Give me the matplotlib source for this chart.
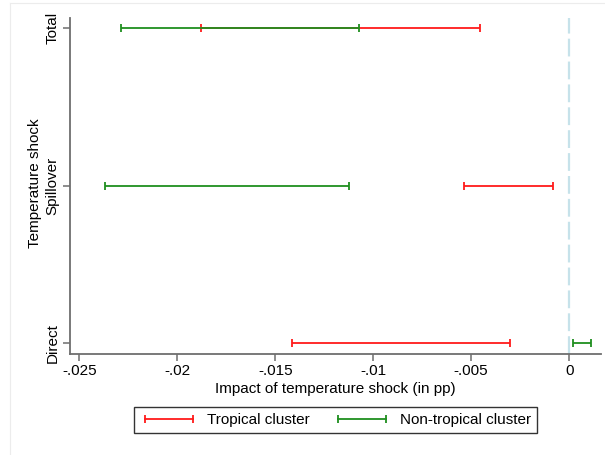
import numpy as np
import matplotlib
matplotlib.use('Agg')
import matplotlib.pyplot as plt
from matplotlib.lines import Line2D
from matplotlib.ticker import FuncFormatter

plt.rcParams['font.family'] = ['Liberation Sans', 'DejaVu Sans']

# Effects and confidence bounds
effects = ['Direct', 'Spillover', 'Total']
tropical_lo = [-0.01414, -0.00535, -0.01878]
tropical_hi = [-0.00300, -0.00081, -0.00456]
nontrop_lo = [0.00019, -0.02369, -0.02289]
nontrop_hi = [0.00110, -0.01125, -0.01072]
xticks = [-0.025, -0.02, -0.015, -0.01, -0.005, 0]

red = '#ff1a1a'
green = '#1f8f1f'

fig = plt.figure(figsize=(6.05, 4.55), dpi=100)
ax = fig.add_axes([0.1150, 0.2220, 0.8785, 0.7384])

# faint outer graph-region border
fig.add_artist(Line2D([0.0165, 0.0165], [0.0, 0.9934], color='#ececec', lw=0.8))
fig.add_artist(Line2D([0.0165, 1.0], [0.9934, 0.9934], color='#ececec', lw=0.8))

ypos = np.arange(len(effects))

ax.axvline(0, color='#c6e2ea', lw=1.6, dashes=(8, 2.3), zorder=1)


def draw_ci(lo, hi, color, z):
    lo = np.array(lo)
    hi = np.array(hi)
    ax.hlines(ypos, lo, hi, color=color, lw=1.3, zorder=z)
    ax.plot(lo, ypos, ls='none', marker='|', ms=6, mew=1.3, color=color, zorder=z)
    ax.plot(hi, ypos, ls='none', marker='|', ms=6, mew=1.3, color=color, zorder=z)


draw_ci(tropical_lo, tropical_hi, red, 3)
draw_ci(nontrop_lo, nontrop_hi, green, 4)

ax.set_xlim(-0.0255, 0.00163)
ax.set_ylim(-0.068, 2.063)
ax.set_xticks(xticks)
ax.xaxis.set_major_formatter(FuncFormatter(
    lambda v, p: '0' if abs(v) < 1e-12 else ('%g' % v).replace('0.', '.')))
ax.set_yticks(ypos)
ax.set_yticklabels(effects, rotation=90, va='center')

for s in ['top', 'right']:
    ax.spines[s].set_visible(False)
for s in ['left', 'bottom']:
    ax.spines[s].set_color('#6e6e6e')
    ax.spines[s].set_linewidth(1.3)
ax.tick_params(axis='both', length=5, width=1.1, color='#6e6e6e',
               labelsize=11, labelcolor='black', pad=2)

fig.text(35.5 / 605, 1 - 183 / 455, 'Temperature shock', rotation=90,
         ha='center', va='center', fontsize=11)
fig.text(0.5545, 0.1444, 'Impact of temperature shock (in pp)', ha='center',
         va='center', fontsize=11)

handles = [
    Line2D([0], [0], color=red, lw=1.3, marker='|', ms=5.5, mew=1.3),
    Line2D([0], [0], color=green, lw=1.3, marker='|', ms=5.5, mew=1.3),
]

leg = fig.legend(handles, ['Tropical cluster', 'Non-tropical cluster'],
                 loc='center', bbox_to_anchor=(0.5545, 0.0769), ncol=2,
                 numpoints=2, fontsize=11, frameon=True, fancybox=False,
                 handlelength=3.75, handletextpad=0.6, columnspacing=1.57,
                 borderpad=0.4)
leg.get_frame().set_edgecolor('black')
leg.get_frame().set_linewidth(1.0)

fig.savefig('out.png', dpi=100, facecolor='white')
